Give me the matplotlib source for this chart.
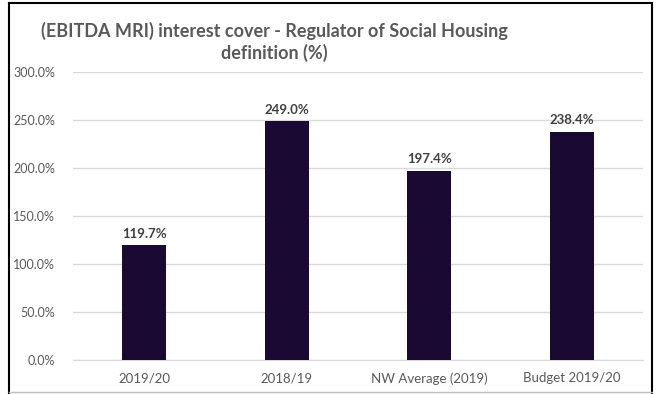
import matplotlib
matplotlib.use("Agg")
import matplotlib.pyplot as plt
from matplotlib.lines import Line2D
from matplotlib.ticker import FuncFormatter

categories = ["2019/20", "2018/19", "NW Average (2019)", "Budget 2019/20"]
values = [119.7, 249.0, 197.4, 238.4]
yticks = [0, 50, 100, 150, 200, 250, 300]
title = "(EBITDA MRI) interest cover - Regulator of Social Housing\ndefinition (%)"

plt.rcParams["font.family"] = ["Lato", "DejaVu Sans"]

W, H = 656, 394
fig = plt.figure(figsize=(W / 100, H / 100), dpi=100)
fig.patch.set_facecolor("white")

ax = fig.add_axes([73 / W, 1 - 360 / H, (643 - 73) / W, (360 - 72.5) / H])
x = range(len(categories))
ax.bar(x, values, width=0.31, color="#1a0a33", zorder=3)
ax.set_xlim(-0.5, len(categories) - 0.5)
ax.set_ylim(0, 300)
ax.set_yticks(yticks)
ax.yaxis.set_major_formatter(FuncFormatter(lambda v, p: f"{v:.1f}%"))
ax.set_xticks(list(x))
ax.set_xticklabels(categories)
ax.grid(axis="y", color="#d9d9d9", linewidth=1, zorder=0)
for s in ["top", "right", "left"]:
    ax.spines[s].set_visible(False)
ax.spines["bottom"].set_color("#d9d9d9")
ax.tick_params(axis="both", length=0, labelsize=9.5, colors="#595959")
ax.tick_params(axis="y", pad=13, labelsize=9)
ax.tick_params(axis="x", pad=9)

for i, v in enumerate(values):
    ax.annotate(f"{v:.1f}%", (i, v), xytext=(0, 4), textcoords="offset points",
                ha="center", va="bottom", fontsize=9.5, fontweight="bold",
                color="#404040")

fig.text(274 / W, 1 - 42 / H, title, ha="center", va="center", fontsize=13,
         fontweight="bold", color="#595959", linespacing=1.25)

# outer frame
fig.add_artist(Line2D([9 / W, 9 / W], [0, 1 - 3 / H], transform=fig.transFigure, color="black", lw=1.5))
fig.add_artist(Line2D([652 / W, 652 / W], [0, 1 - 3 / H], transform=fig.transFigure, color="black", lw=1.5))
fig.add_artist(Line2D([9 / W, 652 / W], [1 - 3 / H, 1 - 3 / H], transform=fig.transFigure, color="black", lw=1.5))
fig.add_artist(Line2D([9 / W, 652 / W], [1 - 392 / H, 1 - 392 / H], transform=fig.transFigure, color="#bfbfbf", lw=1))

fig.savefig("out.png", dpi=100)
